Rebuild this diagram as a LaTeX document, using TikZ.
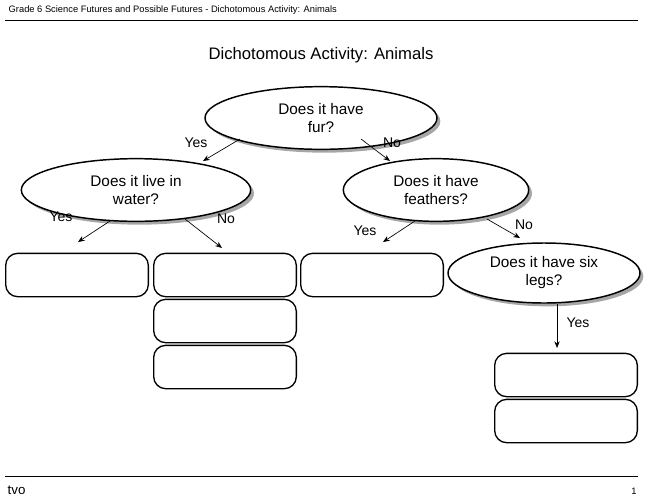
\documentclass[tikz,border=0pt]{standalone}
\usepackage{fontspec}
\setmainfont{Liberation Sans}
\usetikzlibrary{shapes.geometric,shadows,arrows.meta}
\begin{document}
\begin{tikzpicture}[x=0.75pt,y=-0.75pt,
 q/.style={ellipse,draw,line width=1.1pt,fill=white,align=center,font=\fontsize{11.5}{13.5}\selectfont,
   drop shadow={shadow xshift=2.5pt,shadow yshift=-2.5pt,fill=black!35,opacity=1},inner sep=0pt},
 box/.style={draw,line width=1pt,rounded corners=9pt,fill=white,minimum width=107pt,minimum height=32.5pt},
 arr/.style={-{Stealth[length=5pt,width=4pt]},line width=0.5pt},
 lab/.style={font=\fontsize{10.5}{12}\selectfont}]
\useasboundingbox (0,0) rectangle (648,500);
\node[anchor=west,font=\fontsize{7}{8}\selectfont] (hdr) at (4,10) {Grade 6 Science Futures and Possible Futures - Dichotomous Activity: Animals};
\draw[line width=0.5pt] (5,20) coordinate (h1) -- (638,20) coordinate (h2);
\node[font=\fontsize{12.5}{14}\selectfont] (title) at (321,55) {Dichotomous Activity: Animals};
\node[q,minimum width=174pt,minimum height=47pt] (e1) at (321,118) {Does it have\\fur?};
\node[q,minimum width=172pt,minimum height=47pt] (e2) at (136,190) {Does it live in\\water?};
\node[q,minimum width=139pt,minimum height=47pt] (e3) at (436,190) {Does it have\\feathers?};
\node[q,minimum width=144pt,minimum height=45pt] (e4) at (544,273) {Does it have six\\legs?};
\node[box] (b1) at (77,275) {};
\node[box] (b2) at (225,275) {};
\node[box] (b3) at (225,321) {};
\node[box] (b4) at (225,367) {};
\node[box] (b5) at (372,275) {};
\node[box] (b6) at (566,375) {};
\node[box] (b7) at (566,421) {};
\coordinate (s1) at (240,139); \coordinate (t1) at (203,161);
\coordinate (s2) at (361,139); \coordinate (t2) at (390,161);
\coordinate (s3) at (110,221); \coordinate (t3) at (78,242);
\coordinate (s4) at (185,219); \coordinate (t4) at (222,248);
\coordinate (s5) at (415,221); \coordinate (t5) at (383,242);
\coordinate (s6) at (487,219); \coordinate (t6) at (520,238);
\coordinate (s7) at (557,304); \coordinate (t7) at (557,348);
\draw[arr] (s1) -- (t1);
\draw[arr] (s2) -- (t2);
\draw[arr] (s3) -- (t3);
\draw[arr] (s4) -- (t4);
\draw[arr] (s5) -- (t5);
\draw[arr] (s6) -- (t6);
\draw[arr] (s7) -- (t7);
\node[lab] (y1) at (196,143) {Yes};
\node[lab] (n1) at (392,143) {No};
\node[lab] (y2) at (61,217) {Yes};
\node[lab] (n2) at (226,219) {No};
\node[lab] (y3) at (365,231) {Yes};
\node[lab] (n3) at (524,225) {No};
\node[lab] (y4) at (578,323) {Yes};
\draw[line width=0.5pt] (5,476) coordinate (f1) -- (638,476) coordinate (f2);
\node[anchor=west,font=\fontsize{10}{12}\selectfont] (tvo) at (3,490) {tvo};
\node[font=\fontsize{7}{8}\selectfont] (pg) at (634,491) {1};
\end{tikzpicture}
\end{document}
